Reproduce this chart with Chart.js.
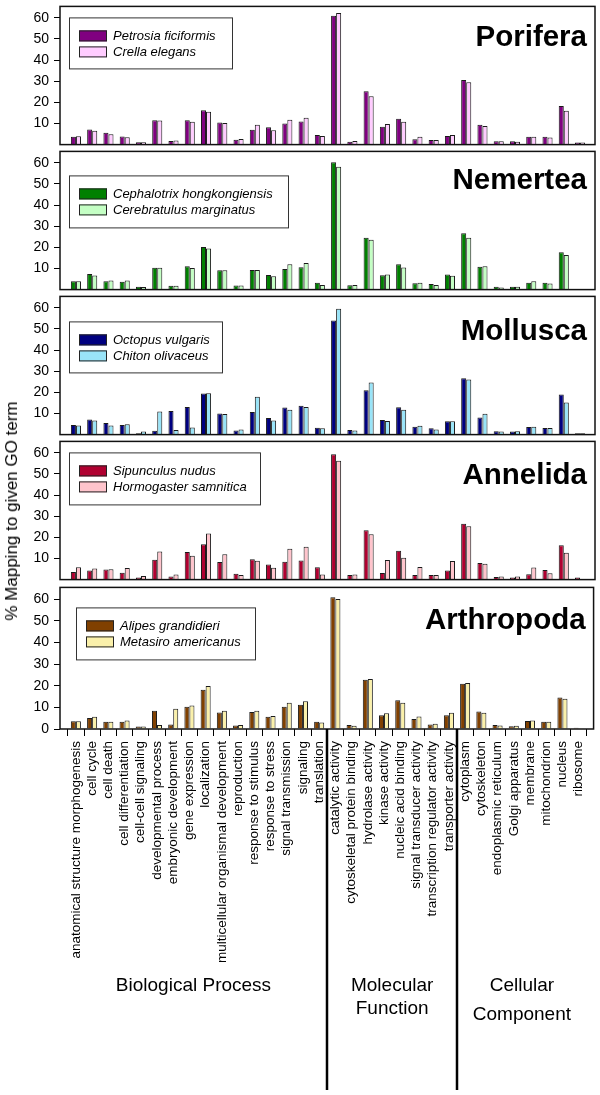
<!DOCTYPE html>
<html>
<head>
<meta charset="utf-8">
<script src="https://cdn.jsdelivr.net/npm/chart.js@4.4.1/dist/chart.umd.min.js"></script>
<style>
  html, body { margin: 0; padding: 0; background: #fff; }
  #wrap { position: relative; width: 600px; height: 1095px; overflow: hidden; background: #fff; }
  #wrap canvas { position: absolute; left: 0; }
  #ytitle {
    position: absolute; left: 12px; top: 511px;
    transform: translate(-50%, -50%) rotate(-90deg);
    white-space: nowrap; font: 17px 'Liberation Sans', Arial, sans-serif; color: #000;
  }
</style>
</head>
<body>
<div id="wrap">
  <canvas id="c0" width="600" height="165" style="top:-7px"></canvas>
  <canvas id="c1" width="600" height="165" style="top:138px"></canvas>
  <canvas id="c2" width="600" height="165" style="top:283px"></canvas>
  <canvas id="c3" width="600" height="165" style="top:428px"></canvas>
  <canvas id="c4" width="600" height="521" style="top:574px"></canvas>
  <div id="ytitle">% Mapping to given GO term</div>
</div>
<script>
// GO terms (x axis)
const categories = [
    'anatomical structure morphogenesis', 'cell cycle', 'cell death', 'cell differentiation',
    'cell-cell signaling', 'developmental process', 'embryonic development', 'gene expression',
    'localization', 'multicellular organismal development', 'reproduction', 'response to stimulus',
    'response to stress', 'signal transmission', 'signaling', 'translation',
    'catalytic activity', 'cytoskeletal protein binding', 'hydrolase activity', 'kinase activity',
    'nucleic acid binding', 'signal transducer activity', 'transcription regulator activity', 'transporter activity',
    'cytoplasm', 'cytoskeleton', 'endoplasmic reticulum', 'Golgi apparatus',
    'membrane', 'mitochondrion', 'nucleus', 'ribosome'
];
const groupNames = [['Biological Process'], ['Molecular', 'Function'], ['Cellular', 'Component']];
const groupBreaks = [15.5, 23.5];
const yTicks = [0, 10, 20, 30, 40, 50, 60];

// Porifera
const poriferaNames = ['Petrosia ficiformis', 'Crella elegans'];
const petrosia = [3.7, 7.1, 5.6, 3.8, 1.1, 11.5, 1.7, 11.5, 16.2, 10.5, 2.3, 7.0, 8.2, 10.0, 10.9, 4.6,
    61.0, 1.4, 25.2, 8.5, 12.2, 2.5, 2.2, 4.1, 30.6, 9.4, 1.6, 1.6, 3.7, 3.7, 18.3, 1.0];
const crella = [4.0, 6.5, 4.9, 3.5, 1.1, 11.4, 1.9, 10.8, 15.6, 10.2, 2.6, 9.4, 6.8, 11.8, 12.7, 4.1,
    62.3, 1.7, 22.9, 9.8, 10.8, 3.7, 2.2, 4.6, 29.5, 8.8, 1.6, 1.4, 3.7, 3.4, 16.0, 1.0];

// Nemertea
const nemerteaNames = ['Cephalotrix hongkongiensis', 'Cerebratulus marginatus'];
const cephalotrix = [4.0, 7.4, 4.0, 3.7, 1.3, 10.3, 1.8, 11.1, 20.2, 9.1, 1.9, 9.3, 6.9, 9.7, 10.6, 3.3,
    60.3, 2.1, 24.5, 6.8, 12.0, 3.0, 2.7, 7.1, 26.7, 10.8, 1.3, 1.4, 3.2, 3.3, 17.7, 0];
const cerebratulus = [4.0, 6.7, 4.3, 4.3, 1.2, 10.3, 1.8, 10.2, 19.5, 9.1, 1.9, 9.3, 6.3, 12.0, 12.6, 2.2,
    58.1, 2.2, 23.6, 7.1, 10.4, 3.2, 2.2, 6.5, 24.5, 11.1, 1.0, 1.4, 4.0, 2.9, 16.4, 0];

// Mollusca
const molluscaNames = ['Octopus vulgaris', 'Chiton olivaceus'];
const octopus = [4.6, 7.2, 5.5, 4.5, 0.6, 1.8, 11.2, 13.1, 19.4, 10.0, 1.9, 10.7, 7.8, 12.8, 13.7, 3.3,
    54.0, 2.2, 21.0, 6.9, 13.0, 3.7, 3.0, 6.3, 26.7, 8.1, 1.6, 1.5, 3.6, 3.1, 19.0, 0.6];
const chiton = [4.3, 6.7, 4.3, 4.9, 1.5, 10.9, 2.2, 3.4, 19.6, 9.7, 2.4, 17.9, 6.7, 11.8, 13.1, 3.0,
    59.6, 1.9, 24.6, 6.4, 11.8, 4.2, 2.4, 6.3, 26.1, 9.9, 1.5, 1.6, 3.7, 3.1, 15.2, 0.6];

// Annelida
const annelidaNames = ['Sipunculus nudus', 'Hormogaster samnitica'];
const sipunculus = [3.6, 4.3, 4.8, 3.3, 1.0, 9.4, 1.5, 13.1, 16.7, 8.3, 2.8, 9.6, 7.1, 8.4, 9.0, 5.8,
    59.3, 2.2, 23.3, 3.1, 13.7, 2.2, 2.2, 4.3, 26.4, 7.9, 1.2, 1.0, 2.5, 4.5, 16.3, 1.0];
const hormogaster = [5.8, 5.2, 4.9, 5.5, 1.7, 13.3, 2.4, 11.3, 21.8, 12.0, 2.2, 8.9, 5.6, 14.6, 15.5, 2.4,
    56.3, 2.4, 21.5, 9.3, 10.3, 6.0, 2.2, 8.8, 25.2, 7.5, 1.5, 1.5, 5.7, 3.0, 12.7, 0.3];

// Arthropoda
const arthropodaNames = ['Alipes grandidieri', 'Metasiro americanus'];
const alipes = [3.6, 5.1, 3.3, 3.4, 1.2, 8.4, 2.1, 10.3, 18.1, 7.6, 1.6, 7.8, 5.7, 10.3, 11.2, 3.3,
    60.9, 1.8, 22.7, 6.4, 13.3, 4.6, 2.1, 6.3, 20.9, 8.1, 1.8, 1.3, 3.7, 3.4, 14.5, 0.6];
const metasiro = [3.6, 5.7, 3.3, 3.9, 1.2, 1.8, 9.3, 10.9, 19.9, 8.4, 1.9, 8.4, 6.0, 12.1, 12.8, 3.0,
    60.0, 1.5, 23.1, 7.3, 12.1, 5.8, 2.4, 7.5, 21.3, 7.5, 1.6, 1.5, 3.9, 3.4, 14.0, 0.4];

const FONT = "'Liberation Sans', Arial, sans-serif";
Chart.defaults.font.family = FONT;
Chart.defaults.color = '#000';

// 每个面板：名称、图例、颜色、布局
const panels = [
    { title: 'Porifera', names: poriferaNames, series: [petrosia, crella],
      colors: ['#800080', '#FFCCFF'], titleY: 40, legend: { dx: 9, dy: 11, w: 163, h: 51 } },
    { title: 'Nemertea', names: nemerteaNames, series: [cephalotrix, cerebratulus],
      colors: ['#008000', '#C4FFC4'], titleY: 38, legend: { dx: 9, dy: 24, w: 219, h: 52 } },
    { title: 'Mollusca', names: molluscaNames, series: [octopus, chiton],
      colors: ['#000080', '#99E4F8'], titleY: 44, legend: { dx: 9, dy: 25, w: 153, h: 51 } },
    { title: 'Annelida', names: annelidaNames, series: [sipunculus, hormogaster],
      colors: ['#B00030', '#FFC4CC'], titleY: 43, legend: { dx: 9, dy: 11, w: 191, h: 52 } },
    { title: 'Arthropoda', names: arthropodaNames, series: [alipes, metasiro],
      colors: ['#804000', '#FAF0AA'], titleY: 42, legend: { dx: 16, dy: 20, w: 179, h: 52 } }
];

// 边框、标题和图例
const panelDecor = {
    id: 'panelDecor',
    afterDraw(chart, args, opts) {
        const ctx = chart.ctx;
        const a = chart.chartArea;
        const p = opts.panel;
        ctx.save();
        ctx.strokeStyle = '#111';
        ctx.lineWidth = 1.5;
        ctx.strokeRect(a.left, a.top, a.right - a.left, a.bottom - a.top);

        ctx.fillStyle = '#000';
        ctx.font = 'bold 29.5px ' + FONT;
        ctx.textAlign = 'right';
        ctx.textBaseline = 'alphabetic';
        ctx.fillText(p.title, a.right - 8, a.top + p.titleY);

        const L = p.legend;
        const lx = a.left + L.dx, ly = a.top + L.dy;
        ctx.fillStyle = '#fff';
        ctx.fillRect(lx, ly, L.w, L.h);
        ctx.lineWidth = 1;
        ctx.strokeStyle = '#333';
        ctx.strokeRect(lx + 0.5, ly + 0.5, L.w, L.h);
        ctx.font = 'italic 13px ' + FONT;
        ctx.textAlign = 'left';
        ctx.textBaseline = 'middle';
        p.names.forEach((name, k) => {
            const sy = ly + 13 + k * 16;
            ctx.fillStyle = p.colors[k];
            ctx.fillRect(lx + 10, sy, 28, 11);
            ctx.strokeStyle = '#222';
            ctx.strokeRect(lx + 10.5, sy + 0.5, 27, 10);
            ctx.fillStyle = '#000';
            ctx.fillText(name, lx + 44, sy + 6);
        });
        ctx.restore();
    }
};

// 底部分组线和分组名称
const groupDecor = {
    id: 'groupDecor',
    afterDraw(chart) {
        const ctx = chart.ctx;
        const xs = chart.scales.x;
        const a = chart.chartArea;
        ctx.save();
        ctx.strokeStyle = '#000';
        ctx.lineWidth = 2.5;
        groupBreaks.forEach(v => {
            const px = Math.round(xs.getPixelForValue(v));
            ctx.beginPath();
            ctx.moveTo(px, a.bottom);
            ctx.lineTo(px, a.bottom + 361);
            ctx.stroke();
        });
        ctx.fillStyle = '#000';
        ctx.font = '19px ' + FONT;
        ctx.textAlign = 'center';
        ctx.textBaseline = 'middle';
        const centers = [7.25, 19.5, 27.5];
        const lineGap = [0, 23, 29];
        groupNames.forEach((lines, g) => {
            const px = xs.getPixelForValue(centers[g]);
            lines.forEach((txt, k) => {
                ctx.fillText(txt, px, a.bottom + 257 + k * lineGap[g]);
            });
        });
        ctx.restore();
    }
};

const makeChart = (idx) => {
    const p = panels[idx];
    const last = idx === panels.length - 1;
    const canvas = document.getElementById('c' + idx);
    const ctx = canvas.getContext('2d');
    const plugins = [panelDecor];
    if (last) plugins.push(groupDecor);

    return new Chart(ctx, {
        type: 'bar',
        data: {
            datasets: p.series.map((vals, k) => ({
                label: p.names[k],
                data: vals.map((v, i) => ({ x: i, y: v })),
                backgroundColor: p.colors[k],
                borderColor: '#1a1a1a',
                borderWidth: 1,
                borderSkipped: 'bottom',
                categoryPercentage: 0.62,
                barPercentage: 1.0
            }))
        },
        options: {
            responsive: false,
            animation: false,
            events: [],
            layout: { padding: { left: 0, right: 5, top: 10, bottom: last ? 0 : 10 } },
            scales: {
                x: {
                    type: 'linear',
                    offset: false,
                    min: -0.98,
                    max: 31.92,
                    display: last,
                    afterBuildTicks: (scale) => {
                        scale.ticks = categories.map((c, i) => ({ value: i }));
                    },
                    afterFit: (scale) => {
                        if (last) scale.height = 366;
                    },
                    grid: {
                        drawOnChartArea: false,
                        drawTicks: true,
                        tickLength: 7,
                        color: '#000',
                        lineWidth: 1
                    },
                    border: { display: false },
                    ticks: {
                        autoSkip: false,
                        minRotation: 90,
                        maxRotation: 90,
                        padding: 5,
                        font: { size: 13.5 },
                        color: '#000',
                        callback: (value, index) => categories[index]
                    }
                },
                y: {
                    min: 0,
                    max: 65.4,
                    afterBuildTicks: (scale) => {
                        const vals = last ? yTicks : yTicks.filter(v => v > 0);
                        scale.ticks = vals.map(v => ({ value: v }));
                    },
                    afterFit: (scale) => { scale.width = 60; },
                    grid: {
                        drawOnChartArea: false,
                        drawTicks: true,
                        tickLength: 6,
                        color: '#000',
                        lineWidth: 1
                    },
                    border: { display: false },
                    ticks: {
                        padding: 5,
                        font: { size: 14 },
                        color: '#000'
                    }
                }
            },
            plugins: {
                legend: { display: false },
                tooltip: { enabled: false },
                panelDecor: { panel: p }
            }
        },
        plugins: plugins
    });
};

panels.forEach((p, i) => makeChart(i));
</script>
</body>
</html>
